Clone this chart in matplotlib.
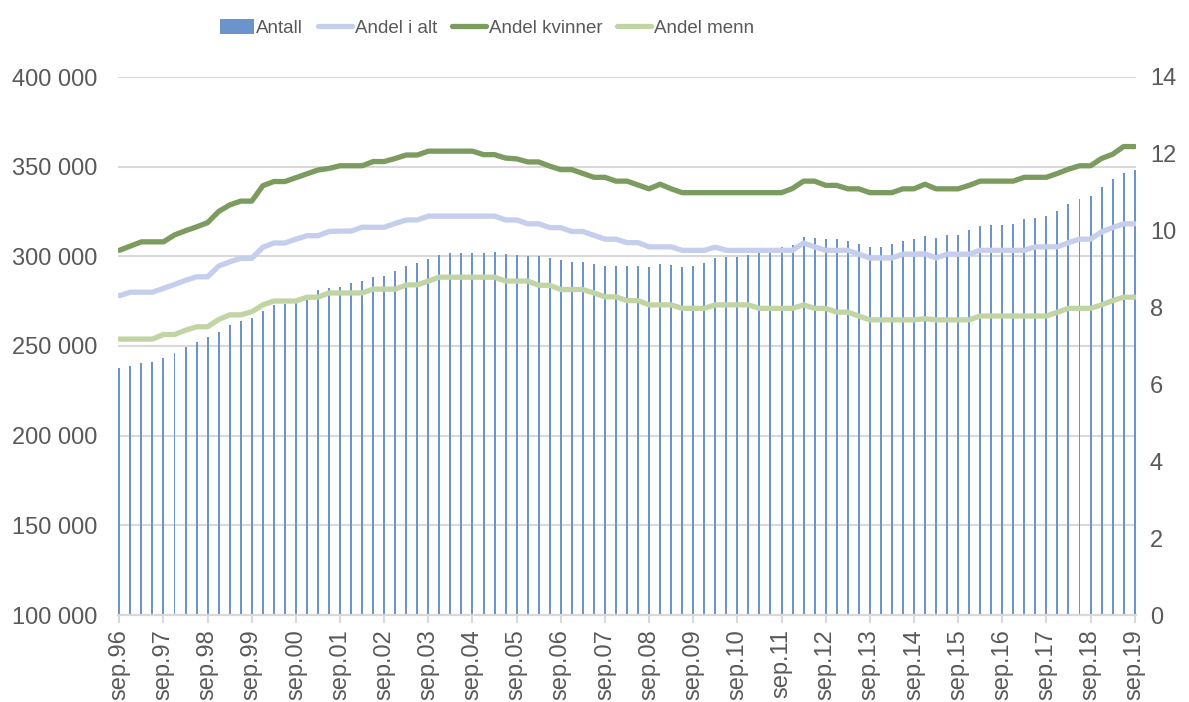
import matplotlib
matplotlib.use("Agg")
import matplotlib.pyplot as plt
from matplotlib.ticker import FuncFormatter

plt.rcParams["font.family"] = ["Liberation Sans", "DejaVu Sans"]

# quarterly series, sep.96 .. sep.19
years = [f"{y % 100:02d}" for y in range(1996, 2020)]
tick_labels = [f"sep.{y}" for y in years]

antall = [
    237600, 239000, 240700, 241300, 243100, 246300, 249600, 252200, 255000, 257800,
    261900, 263900, 265600, 269500, 272700, 273400, 273800, 275500, 281200, 282300,
    283100, 285000, 286400, 288300, 289000, 291800, 294600, 296400, 298500, 300700,
    301700, 302000, 301700, 302000, 302200, 301300, 300800, 300400, 300200, 298900,
    297900, 297000, 296700, 295700, 294600, 294600, 294600, 294600, 294200, 295700,
    295000, 294200, 294600, 296100, 298900, 299800, 299800, 300700, 301700, 302400,
    305400, 306100, 310600, 310000, 309500, 309500, 308500, 306700, 305000, 305400,
    306900, 308500, 309800, 311100, 310400, 311700, 311900, 314500, 316700, 317500,
    317500, 318000, 320800, 321500, 322500, 325300, 329000, 331800, 333600, 338700,
    343100, 346300, 348100,
]

andel_alt = [
    8.31, 8.40, 8.40, 8.40, 8.50, 8.60, 8.71, 8.80, 8.80, 9.08,
    9.19, 9.28, 9.28, 9.57, 9.68, 9.68, 9.78, 9.87, 9.87, 9.98,
    9.99, 9.99, 10.09, 10.09, 10.09, 10.19, 10.28, 10.28, 10.38, 10.38,
    10.38, 10.38, 10.38, 10.38, 10.38, 10.28, 10.28, 10.18, 10.18, 10.08,
    10.08, 9.98, 9.98, 9.88, 9.78, 9.78, 9.69, 9.69, 9.58, 9.58,
    9.58, 9.49, 9.49, 9.49, 9.57, 9.49, 9.49, 9.49, 9.49, 9.49,
    9.49, 9.49, 9.68, 9.58, 9.49, 9.49, 9.49, 9.39, 9.29, 9.29,
    9.29, 9.39, 9.39, 9.40, 9.29, 9.39, 9.39, 9.39, 9.49, 9.49,
    9.49, 9.49, 9.49, 9.58, 9.58, 9.58, 9.69, 9.78, 9.78, 9.97,
    10.08, 10.18, 10.18,
]

andel_kvinner = [
    9.49, 9.60, 9.71, 9.71, 9.71, 9.89, 10.00, 10.10, 10.21, 10.50,
    10.67, 10.77, 10.77, 11.17, 11.28, 11.28, 11.38, 11.48, 11.58, 11.62,
    11.69, 11.69, 11.69, 11.80, 11.80, 11.88, 11.97, 11.97, 12.07, 12.07,
    12.07, 12.07, 12.07, 11.98, 11.98, 11.89, 11.87, 11.79, 11.79, 11.68,
    11.59, 11.59, 11.49, 11.39, 11.39, 11.29, 11.29, 11.19, 11.09, 11.21,
    11.09, 10.99, 10.99, 10.99, 10.99, 10.99, 10.99, 10.99, 10.99, 10.99,
    10.99, 11.10, 11.29, 11.29, 11.18, 11.18, 11.09, 11.09, 10.99, 10.99,
    10.99, 11.09, 11.09, 11.21, 11.09, 11.09, 11.09, 11.18, 11.29, 11.29,
    11.29, 11.29, 11.39, 11.39, 11.39, 11.49, 11.60, 11.69, 11.69, 11.88,
    11.99, 12.19, 12.19,
]

andel_menn = [
    7.18, 7.18, 7.18, 7.18, 7.30, 7.30, 7.41, 7.50, 7.50, 7.69,
    7.81, 7.81, 7.89, 8.07, 8.17, 8.17, 8.17, 8.27, 8.27, 8.38,
    8.38, 8.38, 8.38, 8.48, 8.48, 8.48, 8.59, 8.59, 8.69, 8.79,
    8.79, 8.79, 8.79, 8.79, 8.79, 8.69, 8.69, 8.69, 8.58, 8.58,
    8.47, 8.47, 8.47, 8.38, 8.28, 8.28, 8.18, 8.18, 8.07, 8.07,
    8.07, 7.98, 7.98, 7.98, 8.07, 8.07, 8.07, 8.07, 7.98, 7.98,
    7.98, 7.98, 8.07, 7.98, 7.98, 7.88, 7.88, 7.78, 7.68, 7.68,
    7.68, 7.68, 7.68, 7.71, 7.68, 7.68, 7.68, 7.68, 7.78, 7.78,
    7.78, 7.78, 7.78, 7.78, 7.78, 7.88, 7.98, 7.98, 7.98, 8.07,
    8.18, 8.27, 8.27,
]

text_color = "#595959"
grid_color = "#D9D9D9"
bar_color = "#6C94CC"
c_alt = "#C5CEEC"
c_kv = "#7B9B5F"
c_menn = "#C1D5A4"

x = list(range(len(antall)))

fig = plt.figure(figsize=(11.89, 7.02), dpi=100)
ax = fig.add_axes([118 / 1189, 1 - 615 / 702, (1136 - 118) / 1189, (615 - 77) / 702])
ax2 = ax.twinx()

bars = ax.bar(x, antall, width=0.18, color=bar_color, label="Antall", zorder=2)
ax.set_ylim(100000, 400000)
ax.set_yticks(range(100000, 400001, 50000))
ax.yaxis.set_major_formatter(FuncFormatter(lambda v, p: f"{int(v):,}".replace(",", " ")))
ax.grid(axis="y", color=grid_color, linewidth=1.5, zorder=0)
ax.set_axisbelow(True)
ax.set_xlim(-0.12, len(x) - 1 + 0.12)
ax.set_xticks(x[::4])
ax.set_xticklabels(tick_labels, rotation=90, va="top", ha="center")

lw = 3.8
l1, = ax2.plot(x, andel_alt, color=c_alt, lw=lw, label="Andel i alt", solid_capstyle="round")
l2, = ax2.plot(x, andel_kvinner, color=c_kv, lw=lw, label="Andel kvinner", solid_capstyle="round")
l3, = ax2.plot(x, andel_menn, color=c_menn, lw=lw, label="Andel menn", solid_capstyle="round")
ax2.set_ylim(0, 14)
ax2.set_yticks(range(0, 15, 2))

for a in (ax, ax2):
    for s in ("top", "right", "left"):
        a.spines[s].set_visible(False)
    a.spines["bottom"].set_color(grid_color)
    a.spines["bottom"].set_linewidth(1.5)

ax.tick_params(axis="y", length=0, pad=15, labelsize=17, labelcolor=text_color)
ax.tick_params(axis="x", length=6, width=1.5, color=grid_color, pad=4,
               labelsize=17, labelcolor=text_color)
ax2.tick_params(axis="y", length=0, pad=10, labelsize=17, labelcolor=text_color)

fig.legend(
    [bars, l1, l2, l3],
    ["Antall", "Andel i alt", "Andel kvinner", "Andel menn"],
    loc="center left",
    bbox_to_anchor=(203 / 1189, 1 - 28 / 702),
    ncol=4,
    frameon=False,
    fontsize=13.5,
    labelcolor=text_color,
    handlelength=1.8,
    handleheight=0.8,
    handletextpad=0.15,
    columnspacing=0.8,
)

fig.savefig("out.png", dpi=100)
